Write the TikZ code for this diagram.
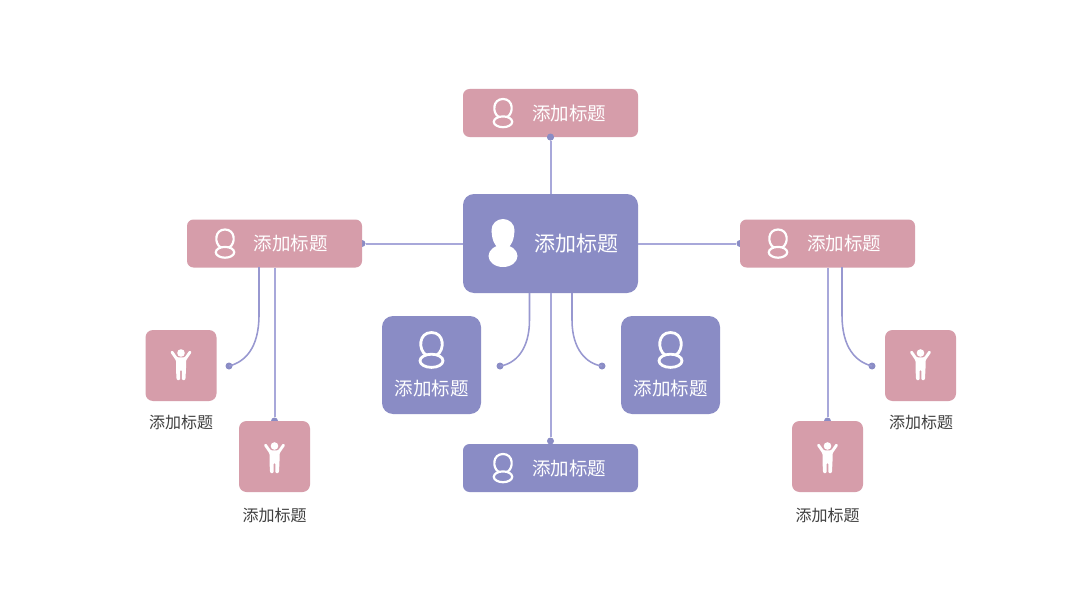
\documentclass[tikz,border=0pt]{standalone}
\usepackage{fontspec}
\setmainfont{Noto Sans CJK SC}
\definecolor{pinkbox}{HTML}{D69DAA}
\definecolor{purplebox}{HTML}{8A8CC5}
\definecolor{linecol}{HTML}{9898D0}
\definecolor{straightcol}{HTML}{A8A8DA}
\definecolor{dotcol}{HTML}{8A8CC5}
\definecolor{labelcol}{HTML}{404040}
\tikzset{
  x=1pt,y=-1pt,
  box/.style={draw=none,inner sep=0pt,outer sep=0pt},
  widebox/.style={box,rounded corners=6.5pt,minimum width=175pt,minimum height=48pt},
  bigbox/.style={box,rounded corners=11pt,minimum width=175pt,minimum height=99pt},
  midbox/.style={box,rounded corners=11pt,minimum width=99pt,minimum height=98pt},
  smallbox/.style={box,rounded corners=7.5pt,minimum width=71pt,minimum height=71pt,fill=pinkbox},
  boxtext/.style={text=white,inner sep=0pt,font=\fontsize{18.5}{20}\selectfont},
  bigtext/.style={text=white,inner sep=0pt,font=\fontsize{21}{23}\selectfont},
  undertext/.style={text=labelcol,inner sep=0pt,font=\fontsize{16}{18}\selectfont},
  conn/.style={draw=straightcol,line width=2pt},
  curveconn/.style={draw=linecol,line width=1.55pt},
  dot/.style={circle,fill=dotcol,inner sep=0pt,minimum size=7pt},
  pics/personline/.style={code={
    \draw[white,line width=2.2pt] (-4.2,4) .. controls (-11,0) and (-10.5,-14) .. (0,-14) .. controls (10.5,-14) and (11,0) .. (4.2,4);
    \draw[white,line width=2.2pt] (0,8.8) ellipse [x radius=9.2,y radius=5.4];
  }},
  pics/personbig/.style={code={
    \draw[white,line width=2.8pt] (-5.4,5) .. controls (-13.5,0) and (-13,-17.5) .. (0,-17.5) .. controls (13,-17.5) and (13.5,0) .. (5.4,5);
    \draw[white,line width=2.8pt] (0,10.8) ellipse [x radius=11.5,y radius=6.6];
  }},
  pics/personfill/.style={code={
    \fill[white] (0,-13) ellipse [x radius=11.5,y radius=11];
    \fill[white] (-11.4,-12) .. controls (-11,-2) and (-8,2) .. (-5,5) -- (5,5) .. controls (8,2) and (11,-2) .. (11.4,-12) -- cycle;
    \fill[white] (0,13) ellipse [x radius=14.5,y radius=11];
  }},
  pics/figure/.style={code={
    \fill[white] (0,-12) circle (3.8);
    \fill[white,rounded corners=1pt] (-10.8,-13) -- (-5,-4.5) -- (-5,4) -- (-4.4,15) -- (-.8,15) -- (-.8,5) -- (.8,5) -- (.8,15) -- (4.4,15) -- (5,4) -- (5,-4.5) -- (10.8,-13) -- (8.4,-14.5) -- (3.6,-7.6) -- (-3.6,-7.6) -- (-8.4,-14.5) -- cycle;
  }},
}
\begin{document}
\begin{tikzpicture}
\useasboundingbox[fill=white] (0,0) rectangle (1080,602);
% free ends and dots
\node[dot] (dl) at (362,243.5) {};
\node[dot] (dr) at (740,243.5) {};
\node[dot] (dbottom) at (550.5,441) {};
\node[dot] (dlb) at (274.5,421) {};
\node[dot] (drb) at (827.5,421) {};
\node[dot] (cml) at (500,366) {};
\node[dot] (cmr) at (602,366) {};
\node[dot] (cla) at (229,366) {};
\node[dot] (cra) at (872,366) {};
\node[dot] (dtop) at (550.5,137) {};
% boxes
\node[widebox,fill=pinkbox] (top) at (550.5,113) {};
\node[dot] at (dtop) {};
\node[bigbox,fill=purplebox] (center) at (550.5,243.5) {};
\node[widebox,fill=pinkbox] (lbox) at (274.5,243.5) {};
\node[widebox,fill=pinkbox] (rbox) at (827.5,243.5) {};
\node[widebox,fill=purplebox] (bottom) at (550.5,468) {};
\node[midbox,fill=purplebox] (ml) at (431.5,365) {};
\node[midbox,fill=purplebox] (mr) at (670.5,365) {};
\node[smallbox] (la) at (181,365.5) {};
\node[smallbox] (lb) at (274.5,456.5) {};
\node[smallbox] (ra) at (920.5,365.5) {};
\node[smallbox] (rb) at (827.5,456.5) {};
\coordinate (c1) at (529.5,293);
\coordinate (c2) at (572,293);
\coordinate (c3) at (259,267);
\coordinate (c4) at (842,267);
% connectors
\draw[conn] (dtop.south) -- (center.north);
\draw[conn] (dl.east) -- (center.west);
\draw[conn] (dr.west) -- (center.east);
\draw[conn] (center.south) -- (dbottom.north);
\draw[conn] (lbox.south) -- (dlb.north);
\draw[conn] (rbox.south) -- (drb.north);
\draw[curveconn] (c1) -- (529.5,320) .. controls (529.5,350) and (515,364) .. (cml.center);
\draw[curveconn] (c2) -- (572,320) .. controls (572,350) and (587,364) .. (cmr.center);
\draw[curveconn] (c3) -- (259,315) .. controls (259,348) and (245,362) .. (cla.center);
\draw[curveconn] (c4) -- (842,315) .. controls (842,348) and (856,362) .. (cra.center);
% icons
\pic at (503,113) {personline};
\pic at (225,243.5) {personline};
\pic at (778,243.5) {personline};
\pic at (503,468) {personline};
\pic at (431.5,350) {personbig};
\pic at (670.5,350) {personbig};
\pic at (503,243) {personfill};
\pic at (181,365) {figure};
\pic at (274.5,458) {figure};
\pic at (920.5,365) {figure};
\pic at (827.5,458) {figure};
% text
\node[boxtext] (t1) at (569,113.5) {添加标题};
\node[boxtext] (t2) at (290.5,243.5) {添加标题};
\node[boxtext] (t3) at (844,243.5) {添加标题};
\node[boxtext] (t4) at (569,468.5) {添加标题};
\node[boxtext] (t5) at (431.5,388) {添加标题};
\node[boxtext] (t6) at (670.5,388) {添加标题};
\node[bigtext] (t7) at (576,243.5) {添加标题};
\node[undertext] (t8) at (181,422) {添加标题};
\node[undertext] (t9) at (274.5,515) {添加标题};
\node[undertext] (t10) at (921,422) {添加标题};
\node[undertext] (t11) at (827.5,515) {添加标题};
\end{tikzpicture}
\end{document}
